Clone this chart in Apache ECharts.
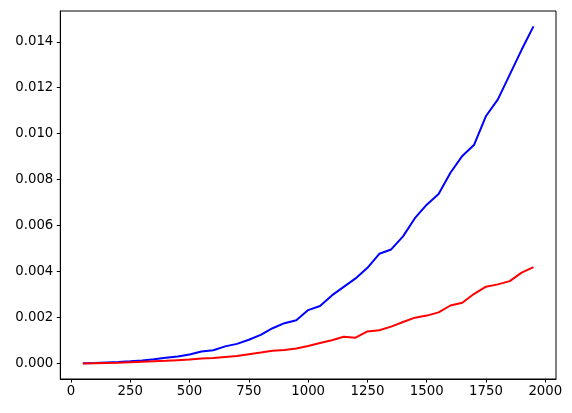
<!DOCTYPE html>
<html>
<head>
<meta charset="utf-8">
<script src="https://cdn.jsdelivr.net/npm/echarts@6/dist/echarts.min.js"></script>
<style>
  html, body { margin: 0; padding: 0; background: #fff; }
  #chart { width: 572px; height: 413px; }
</style>
</head>
<body>
<div id="chart"></div>
<script>
// x positions (problem size)
var sizes = [50, 100, 150, 200, 250, 300, 350, 400, 450, 500, 550, 600, 650, 700, 750,
  800, 850, 900, 950, 1000, 1050, 1100, 1150, 1200, 1250, 1300, 1350, 1400, 1450, 1500,
  1550, 1600, 1650, 1700, 1750, 1800, 1850, 1900, 1950];

var blueTimes = [0.00001, 0.00002, 0.00004, 0.00006, 0.00009, 0.00013, 0.00018, 0.00024, 0.00030, 0.00039,
  0.00052, 0.00057, 0.00074, 0.00085, 0.00103, 0.00124, 0.00153, 0.00175, 0.00188, 0.00232,
  0.00250, 0.00296, 0.00333, 0.00370, 0.00416, 0.00477, 0.00496, 0.00553, 0.00632, 0.00691,
  0.00737, 0.00830, 0.00903, 0.00952, 0.01077, 0.01149, 0.01257, 0.01365, 0.01467];

var redTimes = [0.00000, 0.00001, 0.00002, 0.00003, 0.00005, 0.00007, 0.00009, 0.00011, 0.00014, 0.00017,
  0.00021, 0.00023, 0.00028, 0.00032, 0.00040, 0.00047, 0.00055, 0.00058, 0.00065, 0.00076,
  0.00089, 0.00101, 0.00116, 0.00112, 0.00139, 0.00144, 0.00160, 0.00180, 0.00199, 0.00208,
  0.00222, 0.00252, 0.00264, 0.00303, 0.00334, 0.00344, 0.00358, 0.00395, 0.00419];

var xTicks = [0, 250, 500, 750, 1000, 1250, 1500, 1750, 2000];
var yTicks = [0, 0.002, 0.004, 0.006, 0.008, 0.010, 0.012, 0.014];

function pairs(xs, ys) {
  return xs.map(function (x, i) { return [x, ys[i]]; });
}

var labelStyle = {
  color: '#000',
  fontFamily: 'DejaVu Sans',
  fontSize: 13.3
};

var myChart = echarts.init(document.getElementById('chart'));
myChart.setOption({
  animation: false,
  backgroundColor: '#fff',
  grid: {
    left: 60.3, right: 16, top: 11, bottom: 34,
    show: true, borderColor: '#000', borderWidth: 1
  },
  xAxis: {
    type: 'value',
    min: -45, max: 2045,
    splitLine: { show: false },
    axisLine: { show: true, onZero: false, lineStyle: { color: '#000', width: 1 } },
    axisTick: { show: true, length: 3.5, lineStyle: { color: '#000' }, customValues: xTicks },
    axisLabel: Object.assign({ margin: 6, customValues: xTicks, formatter: function (v) { return String(v); } }, labelStyle)
  },
  yAxis: {
    type: 'value',
    min: -0.00068, max: 0.01534,
    splitLine: { show: false },
    axisLine: { show: true, onZero: false, lineStyle: { color: '#000', width: 1 } },
    axisTick: { show: true, length: 3.5, lineStyle: { color: '#000' }, customValues: yTicks },
    axisLabel: Object.assign({ margin: 7, customValues: yTicks, formatter: function (v) { return v.toFixed(3); } }, labelStyle)
  },
  series: [
    {
      type: 'line',
      data: pairs(sizes, blueTimes),
      showSymbol: false,
      lineStyle: { color: '#0000ff', width: 2 },
      itemStyle: { color: '#0000ff' }
    },
    {
      type: 'line',
      data: pairs(sizes, redTimes),
      showSymbol: false,
      lineStyle: { color: '#ff0000', width: 2 },
      itemStyle: { color: '#ff0000' }
    }
  ]
});
</script>
</body>
</html>
